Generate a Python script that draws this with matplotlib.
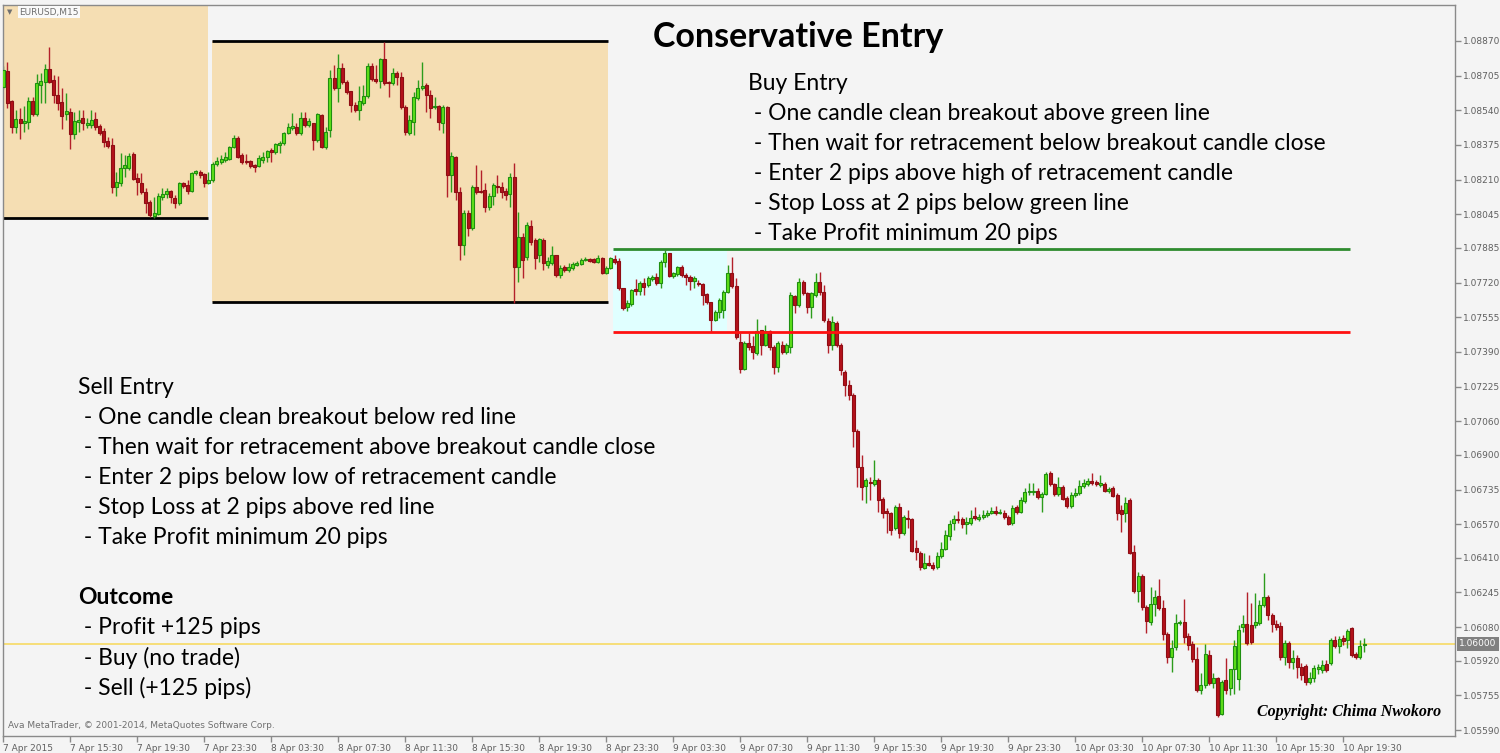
import numpy as np
import matplotlib
matplotlib.use("Agg")
import matplotlib.pyplot as plt
from matplotlib.patches import Rectangle
import matplotlib.transforms as mtransforms

# ---- candle data, EURUSD M15, prices in points (1e-5) ----
O_PTS = [108651,108727,108584,108461,108498,108480,108485,108584,108522,108660,
108675,108736,108684,108613,108580,108522,108532,108427,108485,108503,
108470,108470,108498,108465,108441,108394,108375,108175,108194,108265,
108265,108332,108218,108194,108151,108104,108036,108046,108128,108142,
108156,108123,108099,108194,108184,108156,108242,108246,108237,108194,
108208,108284,108294,108303,108308,108366,108408,108327,108298,108298,
108279,108274,108303,108318,108351,108341,108375,108385,108432,108456,
108461,108432,108503,108470,108480,108399,108517,108366,108446,108694,
108646,108741,108675,108632,108565,108541,108575,108608,108750,108689,
108679,108784,108675,108670,108718,108699,108556,108432,108485,108599,
108646,108660,108613,108556,108560,108480,108556,108232,108318,108151,
107899,108051,107980,108175,108156,108161,108080,108132,108180,108175,
108156,108142,108223,107794,107937,107842,107989,107923,107851,107923,
107803,107813,107851,107756,107794,107780,107789,107803,107808,107827,
107832,107832,107818,107837,107766,107789,107832,107823,107694,107604,
107618,107689,107680,107718,107708,107737,107746,107718,107818,107861,
107751,107761,107794,107756,107746,107727,107718,107713,107666,107627,
107542,107580,107589,107675,107766,107704,107437,107309,107432,107418,
107385,107494,107423,107490,107413,107318,107423,107390,107413,107656,
107613,107723,107670,107604,107661,107723,107675,107537,107423,107527,
107423,107294,107232,107185,107013,106842,106752,106771,106761,106780,
106690,106632,106623,106552,106652,106528,106599,106594,106457,106433,
106361,106385,106375,106366,106418,106452,106514,106575,106594,106594,
106571,106575,106609,106594,106604,106613,106623,106632,106623,106623,
106604,106575,106652,106628,106680,106723,106723,106728,106699,106713,
106813,106761,106713,106747,106694,106656,106709,106718,106752,106761,
106775,106771,106756,106761,106728,106742,106709,106637,106623,106685,
106437,106252,106323,106176,106104,106190,106228,106171,106047,105938,
105985,106100,106104,106038,106000,105928,105781,105804,105947,105814,
105838,105666,105828,105790,105881,105833,106081,106095,106090,106090,
106100,106185,106223,106138,106095,106085,105938,106004,105914,105933,
105890,105895,105819,105838,105881,105876,105904,105909,106019,105990,
106028,106019,106076,105952,105938,105995]

H_PTS = [108750,108770,108589,108541,108551,108560,108604,108604,108713,108718,
108760,108841,108708,108703,108646,108623,108551,108532,108541,108541,
108503,108541,108532,108475,108456,108413,108408,108246,108337,108327,
108337,108341,108242,108242,108170,108113,108128,108147,108170,108170,
108161,108137,108198,108198,108208,108246,108256,108256,108242,108246,
108294,108318,108327,108341,108370,108422,108418,108337,108332,108303,
108284,108327,108341,108351,108361,108385,108394,108437,108480,108527,
108480,108532,108532,108503,108480,108527,108522,108461,108732,108755,
108808,108765,108684,108632,108580,108655,108660,108765,108765,108755,
108789,108865,108679,108741,108727,108722,108565,108517,108627,108684,
108770,108670,108637,108604,108565,108565,108560,108341,108322,108175,
108065,108065,108184,108279,108256,108194,108147,108194,108232,108198,
108170,108242,108289,108056,107956,108008,108018,107932,107932,107932,
107842,107894,107851,107803,107803,107813,107818,107823,107837,107842,
107837,107837,107851,107842,107799,107842,107851,107837,107694,107637,
107689,107737,107727,107742,107751,107756,107766,107827,107875,107861,
107770,107799,107803,107766,107756,107751,107732,107718,107670,107627,
107589,107647,107685,107803,107842,107742,107480,107442,107480,107466,
107546,107494,107518,107494,107423,107442,107442,107432,107675,107661,
107742,107732,107675,107675,107766,107770,107708,107551,107561,107537,
107432,107304,107256,107194,107023,106899,106790,106794,106875,106790,
106699,106647,106628,106661,106671,106613,106637,106599,106495,106442,
106433,106423,106390,106437,106485,106542,106590,106613,106632,106604,
106604,106637,106652,106618,106637,106637,106652,106656,106642,106637,
106613,106661,106661,106699,106742,106766,106766,106742,106723,106818,
106823,106766,106794,106756,106704,106723,106742,106780,106785,106790,
106813,106780,106804,106771,106747,106752,106718,106661,106699,106694,
106471,106342,106333,106185,106271,106257,106309,106209,106057,106019,
106142,106114,106214,106052,106014,105985,105862,106000,105971,105862,
105843,105828,105933,105881,106019,106090,106138,106247,106195,106242,
106209,106337,106233,106147,106114,106104,106019,106014,105971,105947,
105909,105904,105866,105899,105904,105923,105923,106028,106038,106038,
106043,106071,106081,105962,106019,106028]

L_PTS = [108641,108551,108432,108432,108403,108437,108451,108513,108513,108575,
108575,108670,108575,108541,108451,108494,108356,108403,108437,108446,
108456,108456,108446,108422,108366,108361,108147,108132,108180,108223,
108256,108208,108137,108142,108051,108032,108027,108041,108113,108123,
108099,108075,108089,108170,108142,108151,108232,108218,108175,108189,
108198,108274,108284,108294,108303,108361,108313,108284,108284,108265,
108246,108270,108289,108294,108294,108332,108337,108375,108427,108446,
108422,108422,108461,108461,108351,108389,108361,108356,108413,108637,
108580,108665,108618,108532,108532,108494,108565,108599,108679,108670,
108646,108660,108604,108660,108660,108546,108422,108422,108422,108589,
108637,108532,108503,108546,108446,108432,108128,108151,108113,107827,
107851,107942,107970,108142,108147,108056,108065,108089,108147,108123,
108113,108080,107623,107723,107742,107827,107899,107785,107818,107780,
107789,107803,107746,107742,107770,107770,107780,107799,107803,107823,
107818,107813,107813,107761,107761,107785,107808,107685,107589,107585,
107608,107661,107661,107661,107699,107727,107708,107694,107794,107746,
107742,107751,107746,107708,107685,107694,107704,107613,107618,107485,
107537,107551,107551,107670,107694,107451,107289,107304,107399,107356,
107375,107375,107418,107399,107285,107294,107380,107380,107385,107575,
107604,107661,107575,107551,107651,107661,107532,107385,107399,107413,
107280,107180,107161,106937,106747,106685,106671,106685,106752,106628,
106599,106528,106518,106542,106504,106518,106552,106437,106399,106352,
106356,106371,106352,106356,106409,106447,106495,106542,106575,106552,
106523,106566,106590,106585,106594,106604,106618,106613,106618,106594,
106566,106566,106618,106623,106671,106709,106709,106690,106628,106709,
106752,106704,106704,106685,106647,106647,106699,106709,106742,106752,
106756,106752,106747,106723,106718,106699,106590,106533,106580,106428,
106242,106199,106161,106052,106090,106133,106161,106019,105909,105866,
105971,106090,106004,105971,105914,105771,105762,105790,105804,105790,
105652,105662,105762,105757,105762,105781,106057,105995,106000,106076,
106090,106176,106114,106057,106066,105923,105899,105885,105881,105838,
105828,105804,105809,105819,105857,105862,105866,105899,105981,105957,
105995,105981,105938,105928,105928,105962]

C_PTS = [108732,108575,108461,108498,108480,108489,108584,108522,108670,108679,
108736,108675,108613,108575,108513,108536,108427,108489,108494,108480,
108480,108494,108461,108432,108389,108370,108175,108198,108265,108279,
108322,108213,108198,108151,108099,108041,108051,108132,108142,108156,
108128,108099,108194,108180,108156,108242,108251,108232,108194,108208,
108284,108298,108308,108318,108366,108408,108318,108294,108294,108274,
108270,108313,108318,108346,108341,108380,108385,108432,108461,108465,
108432,108503,108470,108489,108399,108522,108366,108437,108694,108646,
108741,108675,108627,108565,108541,108584,108608,108750,108689,108679,
108784,108670,108670,108718,108699,108556,108437,108494,108604,108646,
108656,108613,108551,108560,108485,108556,108232,108322,108151,107899,
108051,107980,108175,108151,108151,108080,108132,108184,108175,108151,
108137,108223,107794,107937,107827,107994,107913,107837,107927,107813,
107823,107851,107756,107789,107780,107794,107808,107813,107827,107832,
107823,107818,107837,107766,107789,107837,107818,107694,107599,107623,
107685,107680,107718,107699,107742,107746,107718,107818,107861,107751,
107766,107794,107756,107746,107727,107742,107713,107661,107627,107542,
107580,107637,107675,107766,107704,107461,107309,107432,107413,107390,
107490,107423,107490,107413,107318,107432,107390,107423,107661,107613,
107723,107670,107604,107670,107723,107675,107542,107423,107532,107423,
107304,107232,107185,107013,106842,106747,106780,106766,106780,106685,
106623,106623,106542,106652,106528,106604,106594,106442,106437,106366,
106385,106375,106361,106418,106452,106518,106571,106594,106590,106571,
106580,106599,106599,106604,106613,106623,106632,106623,106628,106604,
106571,106647,106628,106685,106723,106728,106728,106699,106713,106809,
106761,106713,106747,106690,106656,106709,106718,106752,106766,106775,
106766,106761,106766,106728,106737,106704,106623,106618,106671,106433,
106252,106323,106176,106109,106190,106223,106171,106047,105938,105981,
106100,106104,106033,105995,105928,105781,105804,105952,105814,105838,
105662,105819,105781,105881,105990,106066,106095,106004,106009,106104,
106185,106223,106138,106095,106081,105938,106004,105914,105933,105890,
105852,105819,105838,105885,105890,105899,105876,106019,105990,106023,
106014,106062,105947,105938,105990,106000]

X_TICK_LABELS = ["7 Apr 2015", "7 Apr 15:30", "7 Apr 19:30", "7 Apr 23:30",
                 "8 Apr 03:30", "8 Apr 07:30", "8 Apr 11:30", "8 Apr 15:30",
                 "8 Apr 19:30", "8 Apr 23:30", "9 Apr 03:30", "9 Apr 07:30",
                 "9 Apr 11:30", "9 Apr 15:30", "9 Apr 19:30", "9 Apr 23:30",
                 "10 Apr 03:30", "10 Apr 07:30", "10 Apr 11:30", "10 Apr 15:30",
                 "10 Apr 19:30"]
Y_TICKS = [1.08870, 1.08705, 1.08540, 1.08375, 1.08210, 1.08045, 1.07885,
           1.07720, 1.07555, 1.07390, 1.07225, 1.07060, 1.06900, 1.06735,
           1.06570, 1.06410, 1.06245, 1.06080, 1.05920, 1.05755, 1.05590]

CURRENT_PRICE = 1.06000
GREEN_LEVEL = 1.07880
RED_LEVEL = 1.07485
BOX1_LOW = 1.08027
BOX2_HIGH = 1.08870
BOX2_LOW = 1.07627

BUY_LINES = ["Buy Entry",
             " - One candle clean breakout above green line",
             " - Then wait for retracement below breakout candle close",
             " - Enter 2 pips above high of retracement candle",
             " - Stop Loss at 2 pips below green line",
             " - Take Profit minimum 20 pips"]
SELL_LINES = ["Sell Entry",
              " - One candle clean breakout below red line",
              " - Then wait for retracement above breakout candle close",
              " - Enter 2 pips below low of retracement candle",
              " - Stop Loss at 2 pips above red line",
              " - Take Profit minimum 20 pips"]
OUTCOME_LINES = [" - Profit +125 pips", " - Buy (no trade)", " - Sell (+125 pips)"]

o = np.array(O_PTS) / 1e5
h = np.array(H_PTS) / 1e5
l = np.array(L_PTS) / 1e5
c = np.array(C_PTS) / 1e5
x = np.arange(len(c))

W, H = 1500, 753
BG = '#f4f4f4'
fig = plt.figure(figsize=(15, 7.53), dpi=100, facecolor=BG)
ax = fig.add_axes([3 / W, 1 - 736 / H, (1455 - 3) / W, (736 - 5) / H])
ax.set_facecolor(BG)
ax.set_xlim(-0.07, 346.7)
ax.set_ylim(1.05562, 1.09041)

# shaded zones
ax.add_patch(Rectangle((-1, BOX1_LOW), 49.9, 0.02, facecolor='#f5deb3', edgecolor='none', zorder=0.5))
ax.add_patch(Rectangle((49.8, BOX2_LOW), 144.4 - 49.8, BOX2_HIGH - BOX2_LOW,
                       facecolor='#f5deb3', edgecolor='none', zorder=0.5))
ax.add_patch(Rectangle((145.6, RED_LEVEL), 172.8 - 145.6, GREEN_LEVEL - RED_LEVEL,
                       facecolor='#e0ffff', edgecolor='none', zorder=0.5))
ax.hlines(BOX1_LOW, -1, 48.9, colors='black', lw=2, zorder=1)
ax.hlines([BOX2_HIGH, BOX2_LOW], 49.8, 144.4, colors='black', lw=2, zorder=1)
ax.axhline(CURRENT_PRICE, color='#f7dc6f', lw=1.3, zorder=1.2)

# candles
up = c >= o
wick_col = np.where(up, '#2c9c1c', '#b3202a')
body_fill = np.where(up, '#5ee01a', '#b5121b')
body_edge = np.where(up, '#1f8f10', '#8e0d14')
ax.vlines(x, l, h, colors=wick_col, lw=1.0, zorder=2)
ax.bar(x, np.abs(c - o), bottom=np.minimum(o, c), width=0.72,
       color=body_fill, edgecolor=body_edge, linewidth=0.8, zorder=3)

# breakout levels
ax.hlines(GREEN_LEVEL, 145.6, 321.6, colors='#2e8b2e', lw=2, zorder=4)
ax.hlines(RED_LEVEL, 145.6, 321.6, colors='#ff1010', lw=2, zorder=4)

# axes styling
for s in ax.spines.values():
    s.set_color('#8a8a8a')
    s.set_linewidth(1)
ax.yaxis.tick_right()
ax.set_yticks(Y_TICKS)
ax.set_yticklabels([f"{v:.5f}" for v in Y_TICKS])
ax.set_xticks(np.arange(len(X_TICK_LABELS)) * 16)
ax.set_xticklabels(X_TICK_LABELS, ha='left')
ax.tick_params(axis='both', colors='#8a8a8a', labelcolor='#606060',
               labelsize=6.5, length=4, width=1, direction='out', pad=2)

blend = mtransforms.blended_transform_factory(ax.transAxes, ax.transData)
ax.text(1.003, CURRENT_PRICE, f"{CURRENT_PRICE:.5f}", transform=blend, va='center', ha='left',
        color='white', fontsize=6.5,
        bbox=dict(boxstyle='square,pad=0.25', facecolor='#808080', edgecolor='none'), zorder=6)

def fx(px):
    return px / W

def fy(py):
    return 1 - py / H

FONT = ['Lato', 'DejaVu Sans']
TS = 16.5
fig.text(fx(653), fy(37), "Conservative Entry", family=FONT, weight='bold',
         fontsize=24.5, va='center', ha='left', color='black')
for k, t in enumerate(BUY_LINES):
    fig.text(fx(748), fy(84 + 30 * k), t, family=FONT, fontsize=TS, va='center', ha='left')
for k, t in enumerate(SELL_LINES):
    fig.text(fx(78), fy(388 + 30 * k), t, family=FONT, fontsize=TS, va='center', ha='left')
fig.text(fx(78), fy(598), "Outcome", family=FONT, weight='bold', fontsize=TS, va='center', ha='left')
for k, t in enumerate(OUTCOME_LINES):
    fig.text(fx(78), fy(628 + 30 * k), t, family=FONT, fontsize=TS, va='center', ha='left')

fig.text(fx(8), fy(726), "Ava MetaTrader, \u00a9 2001-2014, MetaQuotes Software Corp.",
         fontsize=6.5, color='#707070', va='center', ha='left')
fig.text(fx(7), fy(12), "\u25bc", fontsize=5, color='#707070', va='center', ha='left')
fig.text(fx(19), fy(12), "EURUSD,M15", fontsize=6.5, color='#707070', va='center', ha='left',
         bbox=dict(boxstyle='square,pad=0.15', facecolor='#fafafa', edgecolor='none'))
fig.text(fx(1257), fy(712), "Copyright: Chima Nwokoro", family=['Liberation Serif', 'DejaVu Serif'],
         style='italic', weight='bold', fontsize=11.5, va='center', ha='left', color='black')

fig.savefig('out.png', dpi=100, facecolor=BG)
